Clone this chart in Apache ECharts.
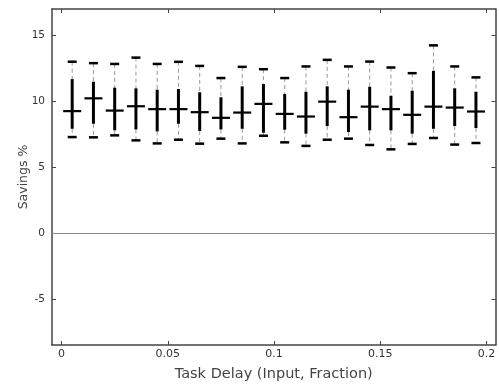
<!DOCTYPE html>
<html><head><meta charset="utf-8">
<script src="https://cdn.jsdelivr.net/npm/echarts@6/dist/echarts.min.js"></script>
<style>html,body{margin:0;padding:0;background:#fff}#c{width:499px;height:387px}</style>
</head><body><div id="c"></div>
<script>
const delays = [0.005,0.015,0.025,0.035,0.045,0.055,0.065,0.075,0.085,0.095,0.105,0.115,0.125,0.135,0.145,0.155,0.165,0.175,0.185,0.195];
const whiskerLow = [7.28,7.26,7.41,7.03,6.80,7.08,6.78,7.16,6.80,7.38,6.88,6.61,7.08,7.16,6.68,6.35,6.76,7.21,6.71,6.83];
const q1 = [7.91,8.29,7.79,7.86,7.71,8.29,7.74,7.86,7.91,7.61,7.84,7.54,8.12,7.66,7.79,7.79,7.54,7.91,8.12,7.97];
const median = [9.25,10.22,9.29,9.62,9.40,9.40,9.17,8.74,9.14,9.80,9.04,8.84,9.97,8.79,9.59,9.40,8.97,9.59,9.52,9.22];
const q3 = [11.68,11.48,11.03,10.98,10.88,10.93,10.68,10.30,11.13,11.30,10.55,10.72,11.13,10.88,11.10,10.42,10.80,12.31,10.98,10.72];
const whiskerHigh = [13.00,12.89,12.83,13.31,12.83,12.99,12.68,11.76,12.61,12.43,11.76,12.64,13.14,12.64,13.01,12.56,12.13,14.24,12.64,11.81];
const xTicks = [0,0.05,0.1,0.15,0.2];
const yTicks = [-5,0,5,10,15];

const data = delays.map((x,i)=>[x, whiskerLow[i], q1[i], median[i], q3[i], whiskerHigh[i]]);
const FONT = 'DejaVu Sans';
const axisCol = '#444';

function renderItem(params, api){
  const x = api.value(0);
  const pLo = api.coord([x, api.value(1)]);
  const pQ1 = api.coord([x, api.value(2)]);
  const pMed = api.coord([x, api.value(3)]);
  const pQ3 = api.coord([x, api.value(4)]);
  const pHi = api.coord([x, api.value(5)]);
  const cx = pMed[0];
  const dash = {stroke:'#999', lineWidth:1, lineDash:[4,3]};
  return {type:'group', children:[
    {type:'line', shape:{x1:cx,y1:pHi[1],x2:cx,y2:pQ3[1]}, style:dash},
    {type:'line', shape:{x1:cx,y1:pQ1[1],x2:cx,y2:pLo[1]}, style:dash},
    {type:'line', shape:{x1:cx,y1:pQ3[1],x2:cx,y2:pQ1[1]}, style:{stroke:'#000',lineWidth:3}},
    {type:'line', shape:{x1:cx-9,y1:pMed[1],x2:cx+9,y2:pMed[1]}, style:{stroke:'#000',lineWidth:2.2}},
    {type:'line', shape:{x1:cx-4.5,y1:pHi[1],x2:cx+4.5,y2:pHi[1]}, style:{stroke:'#000',lineWidth:2.5}},
    {type:'line', shape:{x1:cx-4.5,y1:pLo[1],x2:cx+4.5,y2:pLo[1]}, style:{stroke:'#000',lineWidth:2.5}}
  ]};
}

const xBase = {type:'value', min:-0.0045, max:0.2042,
  axisLine:{show:true, onZero:false, lineStyle:{color:axisCol, width:1.5}},
  axisTick:{show:true, inside:true, length:4, customValues:xTicks, lineStyle:{color:axisCol}},
  splitLine:{show:false}};
const yBase = {type:'value', min:-8.5, max:17,
  axisLine:{show:true, onZero:false, lineStyle:{color:axisCol, width:1.5}},
  axisTick:{show:true, inside:true, length:4, customValues:yTicks, lineStyle:{color:axisCol}},
  splitLine:{show:false}};

const chart = echarts.init(document.getElementById('c'), null, {renderer:'canvas'});
chart.setOption({
  animation:false,
  grid:{left:52, right:3.5, top:9, bottom:39, containLabel:false},
  xAxis:[
    Object.assign({}, xBase, {position:'bottom',
      name:'Task Delay (Input, Fraction)', nameLocation:'middle', nameGap:22, nameMoveOverlap:false,
      nameTextStyle:{fontFamily:FONT, fontSize:14.5, color:'#444'},
      axisLabel:{customValues:xTicks, fontFamily:FONT, fontSize:11, color:'#333', margin:4,
        formatter:v=>String(+v.toFixed(2))}}),
    Object.assign({}, xBase, {position:'top', axisLabel:{show:false}})
  ],
  yAxis:[
    Object.assign({}, yBase, {position:'left',
      name:'Savings %', nameLocation:'middle', nameGap:22, nameMoveOverlap:false,
      nameTextStyle:{fontFamily:FONT, fontSize:12.5, color:'#444'},
      axisLabel:{customValues:yTicks, fontFamily:FONT, fontSize:10.5, color:'#333', margin:7}}),
    Object.assign({}, yBase, {position:'right', axisLabel:{show:false}})
  ],
  series:[{
    type:'custom', renderItem:renderItem, data:data, xAxisIndex:0, yAxisIndex:0,
    encode:{x:0, y:[1,2,3,4,5]},
    markLine:{silent:true, symbol:'none', label:{show:false},
      lineStyle:{color:'#888', type:'solid', width:1},
      data:[{yAxis:0}]}
  }]
});
</script></body></html>
